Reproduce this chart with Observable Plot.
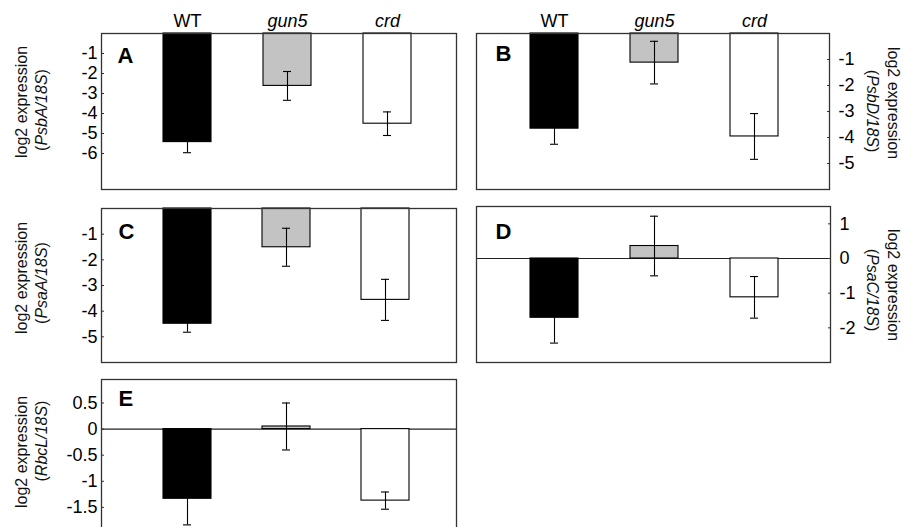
<!DOCTYPE html>
<html><head><meta charset="utf-8">
<script src="https://cdn.jsdelivr.net/npm/d3@7"></script>
<script src="https://cdn.jsdelivr.net/npm/@observablehq/plot@0.6"></script>
<style>
html,body{margin:0;padding:0;background:#fff;overflow:hidden}
#fig{position:relative;width:903px;height:527px;overflow:hidden;background:#fff}
#fig svg{position:absolute}
</style></head><body><div id="fig"></div>
<script>
// ---- data ----
const genotypes = ["WT", "gun5", "crd"];
const psbA = [-5.43, -2.62, -4.51];
const psbAErr = [0.53, 0.72, 0.59];
const psbD = [-3.66, -1.12, -3.96];
const psbDErr = [0.60, 0.82, 0.88];
const psaA = [-4.49, -1.51, -3.56];
const psaAErr = [0.33, 0.74, 0.80];
const psaC = [-1.71, 0.36, -1.12];
const psaCErr = [0.73, 0.86, 0.60];
const rbcL = [-1.335, 0.05, -1.37];
const rbcLErr = [0.50, 0.45, 0.165];
const psbATicks = [-1, -2, -3, -4, -5, -6];
const psbDTicks = [-1, -2, -3, -4, -5];
const psaATicks = [-1, -2, -3, -4, -5];
const psaCTicks = [1, 0, -1, -2];
const rbcLTicks = [0.5, 0, -0.5, -1, -1.5];
const yLabel = "log2 expression";

// ---- layout / style ----
const FONT = "'Liberation Sans', Arial, Helvetica, sans-serif";
const panels = [
  {letter:"A", gene:"PsbA", values:psbA, errors:psbAErr, ticks:psbATicks, domain:[-7.8, 0],
   left:0, top:0, width:466, height:200, mt:33, mb:11, ml:101, mr:10, xr:[162, 411], side:"left", header:true,
   ldx:16, ldy:14, lab:[[21,102],[41,110]]},
  {letter:"B", gene:"PsbD", values:psbD, errors:psbDErr, ticks:psbDTicks, domain:[-6, 0],
   left:466, top:0, width:437, height:200, mt:33, mb:11, ml:10, mr:74, xr:[64, 312], side:"right", header:true,
   ldx:19, ldy:12, lab:[[427,103],[407,111]]},
  {letter:"C", gene:"PsaA", values:psaA, errors:psaAErr, ticks:psaATicks, domain:[-6, 0],
   left:0, top:200, width:466, height:170, mt:8, mb:8, ml:101, mr:10, xr:[162, 409], side:"left", header:false,
   ldx:17, ldy:15, lab:[[21,78],[41,83]]},
  {letter:"D", gene:"PsaC", values:psaC, errors:psaCErr, ticks:psaCTicks, domain:[-3, 1.5],
   left:466, top:200, width:437, height:170, mt:6, mb:8, ml:10, mr:73, xr:[63, 312], side:"right", header:false,
   ldx:19, ldy:17, lab:[[427,85],[407,90]]},
  {letter:"E", gene:"RbcL", values:rbcL, errors:rbcLErr, ticks:rbcLTicks, domain:[-2, 0.95],
   left:0, top:370, width:466, height:170, mt:9, mb:7, ml:101, mr:10, xr:[162, 409], side:"left", header:false,
   ldx:17, ldy:11, lab:[[21,82],[41,71]]}
];

const fig = document.getElementById("fig");

for (const p of panels) {
  const data = genotypes.map((g, i) => ({g, v: p.values[i], e: p.errors[i]}));
  const right = p.side === "right";
  const marks = [];
  if (p.domain[1] > 0) marks.push(Plot.ruleY([0], {stroke: "#222", strokeWidth: 1.1}));
  marks.push(
    Plot.barY(data, {x: "g", y: "v", fill: "g", stroke: "#000", strokeWidth: 1.1}),
    Plot.ruleX(data, {x: "g", y1: d => d.v - d.e, y2: d => d.v + d.e, stroke: "#000", strokeWidth: 1.1}),
    Plot.tickY(data, {x: "g", y: d => d.v - d.e, insetLeft: 20, insetRight: 20, stroke: "#000", strokeWidth: 1.1}),
    Plot.tickY(data, {x: "g", y: d => d.v + d.e, insetLeft: 20, insetRight: 20, stroke: "#000", strokeWidth: 1.1}),
    Plot.axisY(p.ticks, {anchor: right ? "right" : "left", tickSize: -3, tickPadding: right ? 12 : 7,
      tickFormat: d => String(d), fontSize: 18, label: null, stroke: "#333"}),
    Plot.text([p.letter], {text: d => d, frameAnchor: "top-left", dx: p.ldx, dy: p.ldy, lineAnchor: "top",
      textAnchor: "start", fontWeight: "bold", fontSize: 22}),
    Plot.frame({stroke: "#333", strokeWidth: 1.3})
  );
  if (p.header) {
    marks.push(
      Plot.text(genotypes.filter(g => g === "WT"), {x: d => d, text: d => d, frameAnchor: "top", dy: -12, fontSize: 18, lineAnchor: "middle"}),
      Plot.text(genotypes.filter(g => g !== "WT"), {x: d => d, text: d => d, frameAnchor: "top", dy: -12, fontSize: 18, lineAnchor: "middle", fontStyle: "italic"})
    );
  }
  const svg = Plot.plot({
    width: p.width, height: p.height,
    marginTop: p.mt, marginBottom: p.mb, marginLeft: p.ml, marginRight: p.mr,
    style: {fontFamily: FONT, fontSize: "18px", background: "transparent"},
    x: {type: "band", domain: genotypes, range: p.xr, paddingInner: 0.52, paddingOuter: 0, axis: null},
    y: {domain: p.domain},
    color: {domain: genotypes, range: ["#000000", "#c3c3c3", "#ffffff"]},
    marks
  });
  svg.style.left = p.left + "px";
  svg.style.top = p.top + "px";
  fig.appendChild(svg);

  // two-line rotated y label with italic gene name
  const rot = right ? 90 : -90;
  const g = d3.select(svg).append("g").attr("font-family", FONT).attr("font-size", 16).attr("fill", "#111");
  g.append("text")
    .attr("transform", `translate(${p.lab[0][0]},${p.lab[0][1]}) rotate(${rot})`)
    .attr("text-anchor", "middle").attr("dominant-baseline", "central")
    .text(yLabel);
  const t2 = g.append("text")
    .attr("transform", `translate(${p.lab[1][0]},${p.lab[1][1]}) rotate(${rot})`)
    .attr("text-anchor", "middle").attr("dominant-baseline", "central");
  t2.append("tspan").text("(");
  t2.append("tspan").attr("font-style", "italic").text(p.gene + "/18S");
  t2.append("tspan").text(")");
}
</script></body></html>
